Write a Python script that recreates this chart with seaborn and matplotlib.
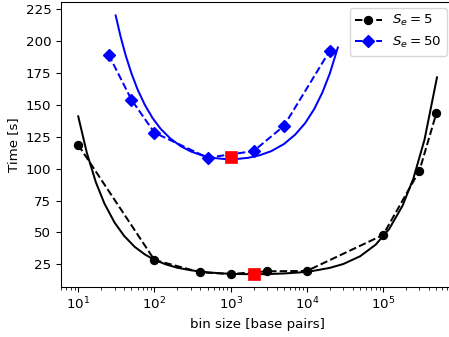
import matplotlib

matplotlib.use("Agg")
import matplotlib.pyplot as plt
import seaborn as sns
from matplotlib.lines import Line2D

# measured runtimes, S_e = 5
bins_se5 = [10, 100, 400, 1000, 3000, 10000, 100000, 300000, 500000]
time_se5 = [118.6, 28.4, 18.7, 17.4, 19.5, 19.8, 48.0, 98.4, 143.4]

# measured runtimes, S_e = 50
bins_se50 = [25, 50, 100, 500, 2000, 5000, 20000]
time_se50 = [189.5, 154.0, 128.2, 108.6, 113.8, 133.5, 192.5]

# fitted curve, S_e = 5
fit_x_se5 = [10, 13, 17, 22, 30, 40, 55, 75, 100, 140, 200, 300, 500, 800,
             1200, 2000, 3000, 5000, 8000, 12000, 20000, 30000, 50000, 80000,
             120000, 180000, 250000, 350000, 510000]
fit_y_se5 = [141.0, 112.2, 89.5, 72.8, 57.7, 47.3, 38.7, 32.7, 28.5, 25.0,
             22.3, 20.3, 18.7, 17.8, 17.4, 17.2, 17.3, 17.8, 18.6, 19.8, 22.2,
             25.2, 31.3, 40.4, 52.6, 70.9, 92.3, 122.8, 171.6]

# fitted curve, S_e = 50
fit_x_se50 = [31, 36, 42, 50, 60, 75, 95, 120, 160, 220, 300, 420, 600, 850,
              1200, 1700, 2400, 3400, 5000, 7000, 9500, 12500, 16000, 20000,
              25500]
fit_y_se50 = [220.1, 203.5, 188.7, 174.6, 162.2, 149.9, 139.5, 131.4, 123.9,
              117.7, 113.5, 110.4, 108.4, 107.5, 107.6, 108.5, 110.5, 113.7,
              119.3, 126.6, 135.7, 146.8, 159.8, 174.6, 195.0]

# optimum bin sizes
opt_bins = [2000, 1000]
opt_time = [17.3, 109.0]

plt.rcParams["font.size"] = 10
plt.rcParams["font.family"] = ["DejaVu Sans"]

W, H, DPI = 449, 337, 96
fig, ax = plt.subplots(figsize=(W / DPI, H / DPI), dpi=DPI)
fig.subplots_adjust(left=60.7 / W, right=454.7 / W, bottom=(H - 286.7) / H, top=(H - 2) / H)
ax.set_xscale("log")

sns.lineplot(x=fit_x_se5, y=fit_y_se5, ax=ax, color="black", linewidth=1.5,
             sort=False, legend=False)
sns.lineplot(x=fit_x_se50, y=fit_y_se50, ax=ax, color="blue", linewidth=1.5,
             sort=False, legend=False)

sns.lineplot(x=bins_se5, y=time_se5, ax=ax, color="black", linestyle="--",
             linewidth=1.5, marker="o", markersize=6, markeredgecolor="black",
             markeredgewidth=1, sort=False, legend=False)
sns.lineplot(x=bins_se50, y=time_se50, ax=ax, color="blue", linestyle="--",
             linewidth=1.5, marker="D", markersize=6, markeredgecolor="blue",
             markeredgewidth=1, sort=False, legend=False)

sns.scatterplot(x=opt_bins, y=opt_time, ax=ax, color="red", marker="s", s=72,
                edgecolor="red", linewidth=0.5, zorder=5, legend=False)

ax.set_xlim(10 ** 0.77, 10 ** 5.94)
ax.set_ylim(7.43, 230.7)
ax.set_yticks([25, 50, 75, 100, 125, 150, 175, 200, 225])
ax.set_xlabel("bin size [base pairs]")
ax.set_ylabel("Time [s]")

handles = [
    Line2D([], [], color="black", ls="--", lw=1.5, marker="o", markersize=6),
    Line2D([], [], color="blue", ls="--", lw=1.5, marker="D", markersize=6),
]
ax.legend(handles, ["$S_e = 5$", "$S_e = 50$"], loc="upper right",
          borderaxespad=0, bbox_to_anchor=(0.98, 0.979))

fig.savefig("out.png", dpi=DPI)
